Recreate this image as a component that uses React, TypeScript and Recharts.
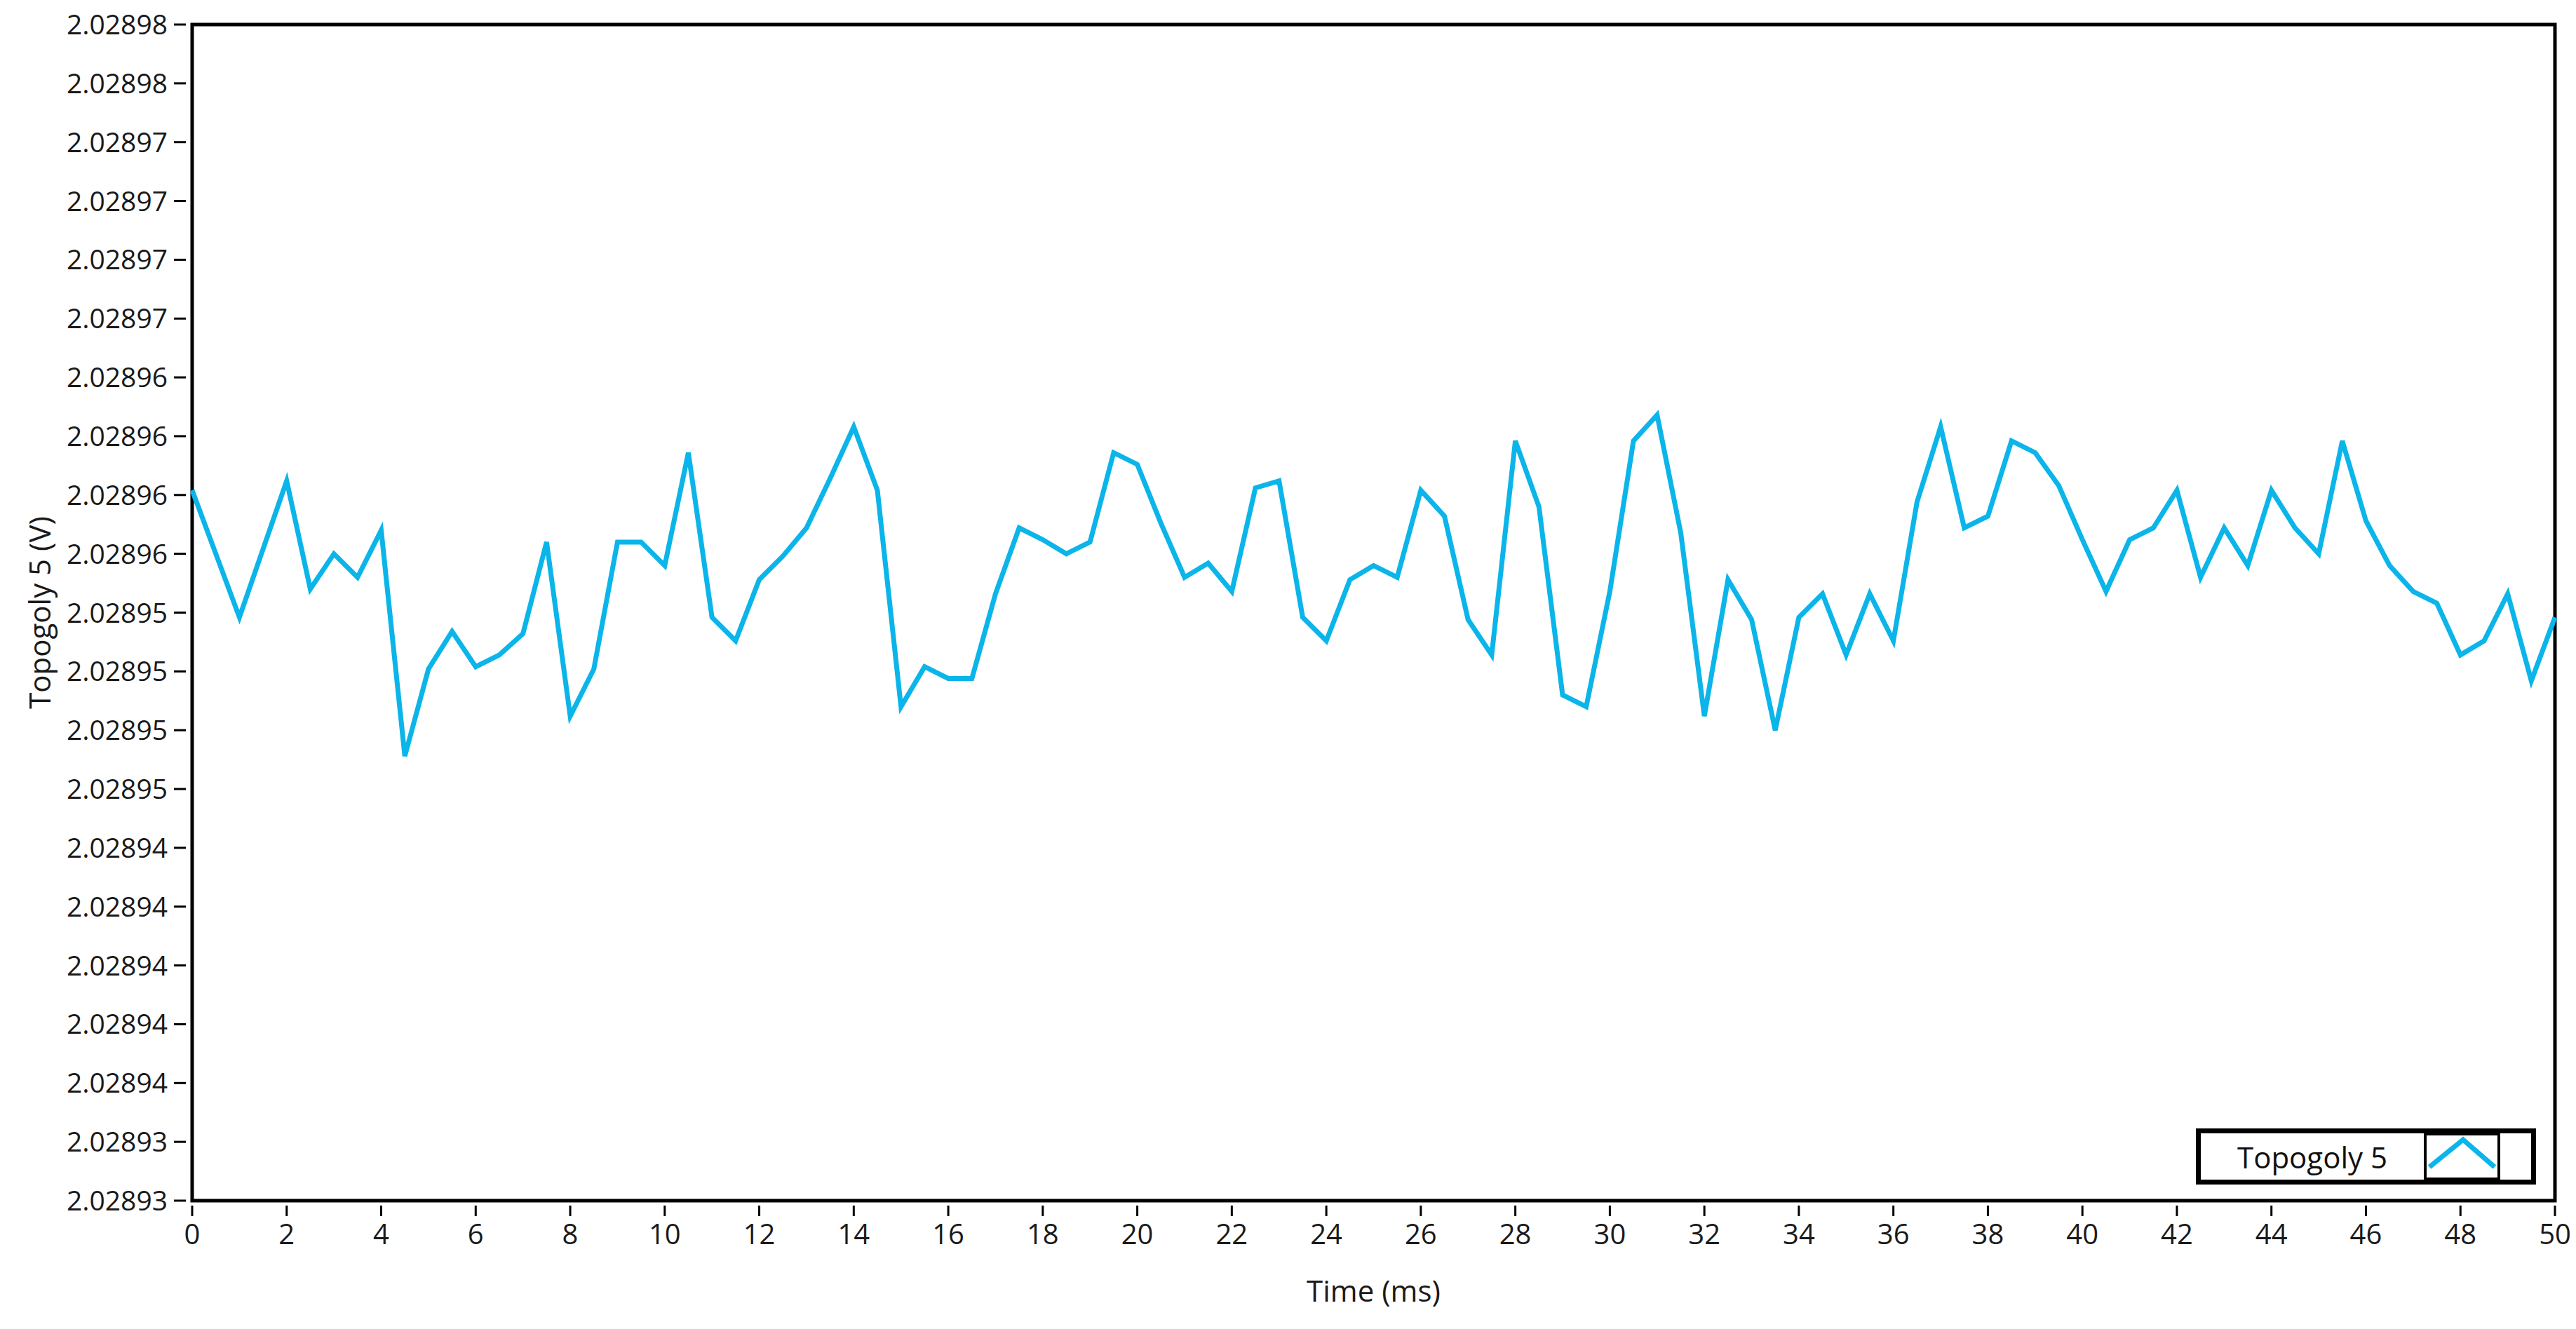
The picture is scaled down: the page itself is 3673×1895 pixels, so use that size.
import {
  LineChart,
  Line,
  XAxis,
  YAxis,
  Legend,
  ReferenceArea,
} from "recharts";

const TIME_MS = [
  0, 0.5, 1, 1.5, 2, 2.5, 3, 3.5, 4, 4.5, 5, 5.5, 6, 6.5, 7, 7.5, 8, 8.5, 9, 9.5,
  10, 10.5, 11, 11.5, 12, 12.5, 13, 13.5, 14, 14.5, 15, 15.5, 16, 16.5, 17, 17.5, 18, 18.5, 19, 19.5,
  20, 20.5, 21, 21.5, 22, 22.5, 23, 23.5, 24, 24.5, 25, 25.5, 26, 26.5, 27, 27.5, 28, 28.5, 29, 29.5,
  30, 30.5, 31, 31.5, 32, 32.5, 33, 33.5, 34, 34.5, 35, 35.5, 36, 36.5, 37, 37.5, 38, 38.5, 39, 39.5,
  40, 40.5, 41, 41.5, 42, 42.5, 43, 43.5, 44, 44.5, 45, 45.5, 46, 46.5, 47, 47.5, 48, 48.5, 49, 49.5,
  50,
];

// Topogoly 5 voltage (V), one reading every 0.5 ms
const VOLTAGE = [
  2.0289602, 2.0289575, 2.0289548, 2.0289577, 2.0289606, 2.028956, 2.0289575, 2.0289565, 2.0289585, 2.0289489,
  2.0289526, 2.0289542, 2.0289527, 2.0289532, 2.0289541, 2.028958, 2.0289506, 2.0289526, 2.028958, 2.028958,
  2.028957, 2.0289618, 2.0289548, 2.0289538, 2.0289564, 2.0289574, 2.0289586, 2.0289607, 2.0289629, 2.0289602,
  2.028951, 2.0289527, 2.0289522, 2.0289522, 2.0289558, 2.0289586, 2.0289581, 2.0289575, 2.028958, 2.0289618,
  2.0289613, 2.0289588, 2.0289565, 2.0289571, 2.0289559, 2.0289603, 2.0289606, 2.0289548, 2.0289538, 2.0289564,
  2.028957, 2.0289565, 2.0289602, 2.0289591, 2.0289547, 2.0289532, 2.0289623, 2.0289595, 2.0289515, 2.028951,
  2.0289559, 2.0289623, 2.0289634, 2.0289584, 2.0289506, 2.0289564, 2.0289547, 2.02895, 2.0289548, 2.0289558,
  2.0289532, 2.0289558, 2.0289538, 2.0289597, 2.0289629, 2.0289586, 2.0289591, 2.0289623, 2.0289618, 2.0289604,
  2.0289581, 2.0289559, 2.0289581, 2.0289586, 2.0289602, 2.0289565, 2.0289586, 2.028957, 2.0289602, 2.0289586,
  2.0289575, 2.0289623, 2.0289589, 2.028957, 2.0289559, 2.0289554, 2.0289532, 2.0289538, 2.0289558, 2.0289521,
  2.0289548,
];

const X_TICKS = [0, 2, 4, 6, 8, 10, 12, 14, 16, 18, 20, 22, 24, 26, 28, 30, 32, 34, 36, 38, 40, 42, 44, 46, 48, 50];

// labels as printed, bottom to top
const Y_TICK_LABELS = [
  "2.02893", "2.02893", "2.02894", "2.02894", "2.02894", "2.02894", "2.02894",
  "2.02895", "2.02895", "2.02895", "2.02895", "2.02896", "2.02896", "2.02896",
  "2.02896", "2.02897", "2.02897", "2.02897", "2.02897", "2.02898", "2.02898",
];

const Y_MIN = 2.02893;
const Y_MAX = 2.02898;
const Y_STEP = 0.0000025;
const Y_TICKS = Y_TICK_LABELS.map((_, i) => Number((Y_MIN + i * Y_STEP).toFixed(8)));

const LINE_COLOR = "#0BB5E9";
const FONT = "'Open Sans', 'Noto Sans', sans-serif";
const TEXT = "#1a1a1a";

const data = TIME_MS.map((t, i) => ({ t, v: VOLTAGE[i] }));

function YTick(props: any) {
  const { x, y, payload, index } = props;
  let i = Y_TICKS.indexOf(payload?.value);
  if (i < 0) i = index;
  return (
    <g>
      <line x1={x - 26} x2={x - 9} y1={y} y2={y} stroke="#000" strokeWidth={3} />
      <text x={x - 35} y={y + 14} textAnchor="end" fontFamily={FONT} fontSize={39} fill={TEXT}>
        {Y_TICK_LABELS[i]}
      </text>
    </g>
  );
}

function XTick(props: any) {
  const { x, y, payload } = props;
  return (
    <g>
      <line x1={x} x2={x} y1={y + 7} y2={y + 22} stroke="#000" strokeWidth={3} />
      <text x={x} y={y + 62} textAnchor="middle" fontFamily={FONT} fontSize={40} fill={TEXT}>
        {payload.value}
      </text>
    </g>
  );
}

function YTitle(props: any) {
  const vb = props.viewBox || {};
  const cx = (vb.x ?? 0) + 47;
  const cy = (vb.y ?? 0) + (vb.height ?? 0) / 2;
  return (
    <text
      x={cx}
      y={cy}
      transform={`rotate(-90 ${cx} ${cy})`}
      textAnchor="middle"
      dominantBaseline="central"
      fontFamily={FONT}
      fontSize={42}
      fill={TEXT}
    >
      Topogoly 5 (V)
    </text>
  );
}

function XTitle(props: any) {
  const vb = props.viewBox || {};
  const cx = (vb.x ?? 0) + (vb.width ?? 0) / 2;
  return (
    <text x={cx} y={(vb.y ?? 0) + 144} textAnchor="middle" fontFamily={FONT} fontSize={42} fill={TEXT}>
      Time (ms)
    </text>
  );
}

function LegendBox() {
  return (
    <div
      style={{
        boxSizing: "border-box",
        width: 485,
        height: 80,
        border: "7px solid #000",
        background: "#fff",
        display: "flex",
      }}
    >
      <div
        style={{
          width: 318,
          display: "flex",
          alignItems: "center",
          justifyContent: "center",
          fontFamily: FONT,
          fontSize: 42,
          color: "#111",
        }}
      >
        Topogoly 5
      </div>
      <div
        style={{
          boxSizing: "border-box",
          width: 109,
          borderLeft: "4px solid #000",
          borderRight: "4px solid #000",
          borderTop: "3px solid #000",
          borderBottom: "3px solid #000",
        }}
      >
        <svg width={101} height={60} style={{ display: "block" }}>
          <polyline points="4,45 52,6 97,45" fill="none" stroke={LINE_COLOR} strokeWidth={7} />
        </svg>
      </div>
      <div style={{ flex: 1 }} />
    </div>
  );
}

export default function App() {
  return (
    <div style={{ width: 3657, height: 1879, background: "#fff" }}>
      <LineChart width={3657} height={1879} data={data} margin={{ top: 27, right: 22, bottom: 0, left: 0 }}>
        <XAxis
          type="number"
          dataKey="t"
          domain={[0, 50]}
          ticks={X_TICKS}
          interval={0}
          height={175}
          tickSize={0}
          tickMargin={0}
          axisLine={false}
          tickLine={false}
          tick={XTick}
          label={<XTitle />}
        />
        <YAxis
          type="number"
          domain={[Y_MIN, Y_MAX]}
          ticks={Y_TICKS}
          interval={0}
          width={266}
          tickSize={0}
          tickMargin={0}
          axisLine={false}
          tickLine={false}
          tick={YTick}
          label={<YTitle />}
        />
        <Line
          type="linear"
          dataKey="v"
          stroke={LINE_COLOR}
          strokeWidth={7}
          dot={false}
          activeDot={false}
          isAnimationActive={false}
        />
        <ReferenceArea
          x1={0}
          x2={50}
          y1={Y_MIN}
          y2={Y_MAX}
          fill="none"
          stroke="#000"
          strokeWidth={5}
          ifOverflow="visible"
        />
        <Legend
          layout="horizontal"
          verticalAlign="middle"
          align="center"
          content={() => <LegendBox />}
          wrapperStyle={{ left: 3123, top: 1601, width: 485, height: 80 }}
        />
      </LineChart>
    </div>
  );
}
